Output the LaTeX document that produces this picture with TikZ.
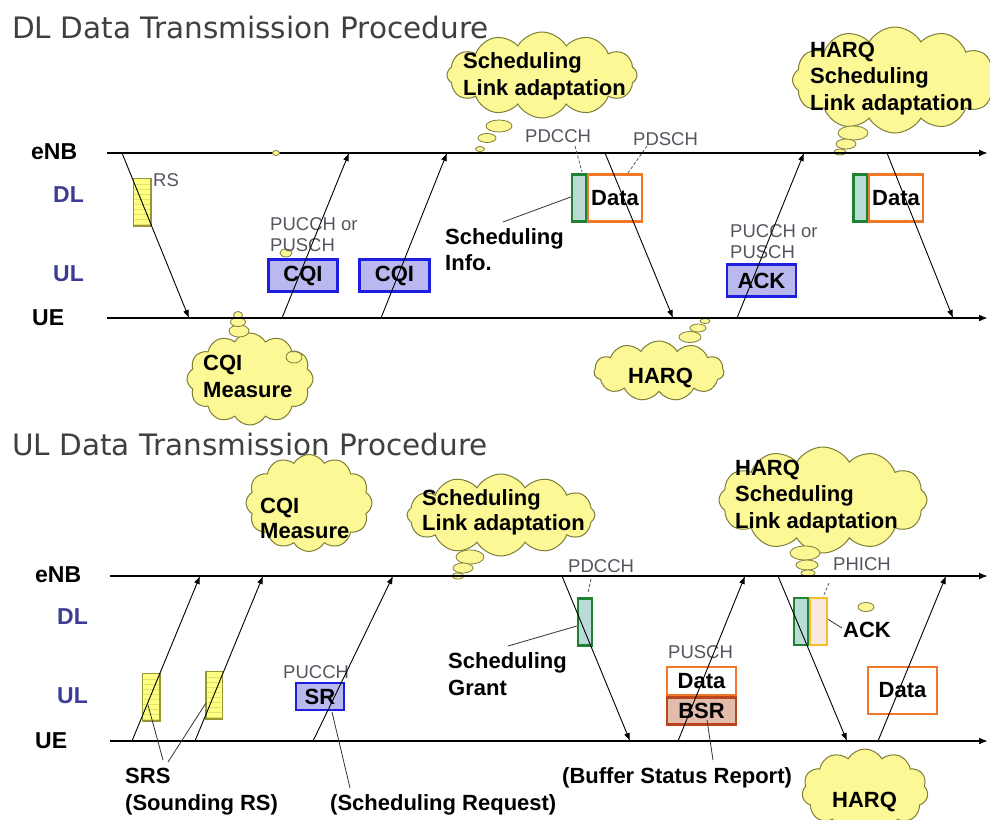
\documentclass[tikz,border=0pt]{standalone}
\usepackage{fontspec}
\setmainfont{Liberation Sans}
\newfontfamily\titlefont{DejaVu Sans}
\usetikzlibrary{arrows.meta,shapes.symbols,shapes.geometric}
\definecolor{cloudfill}{RGB}{252,248,150}
\definecolor{cloudline}{RGB}{125,125,55}
\definecolor{titlegray}{RGB}{64,64,64}
\definecolor{chanblue}{RGB}{60,60,150}
\definecolor{labgray}{RGB}{85,85,95}
\definecolor{cqiline}{RGB}{30,30,225}
\definecolor{cqifill}{RGB}{185,185,240}
\definecolor{dataorange}{RGB}{240,120,40}
\definecolor{ctrlgreen}{RGB}{30,130,50}
\definecolor{ctrlfill}{RGB}{185,220,215}
\definecolor{rsfill}{RGB}{255,255,130}
\definecolor{rsline}{RGB}{150,150,50}
\definecolor{rsstripe}{RGB}{225,225,110}
\definecolor{bsrline}{RGB}{185,70,30}
\definecolor{bsrfill}{RGB}{228,188,172}
\definecolor{ackline}{RGB}{245,190,40}
\definecolor{ackfill}{RGB}{250,232,222}
\tikzset{
  titletext/.style={anchor=base west, inner sep=0pt, font=\titlefont\fontsize{29.5}{30}\selectfont, text=titlegray},
  tllabel/.style={anchor=base west, inner sep=0pt, font=\bfseries\fontsize{23}{26}\selectfont},
  chanlabel/.style={tllabel, text=chanblue},
  graylabel/.style={anchor=base west, inner sep=0pt, font=\fontsize{18.5}{21}\selectfont, text=labgray, align=left},
  boldlabel/.style={anchor=base west, inner sep=0pt, font=\bfseries\fontsize{22}{26.5}\selectfont, align=left},
  timeline/.style={line width=2pt, -{Latex[length=9pt,width=7pt]}},
  msg/.style={line width=0.9pt, -{Latex[length=8pt,width=6pt]}},
  pointer/.style={line width=0.8pt, draw=black!80},
  dashpointer/.style={line width=0.8pt, draw=labgray, dashed, dash pattern=on 3pt off 2pt},
  cloudbox/.style={cloud, cloud puffs=12, cloud puff arc=120, cloud ignores aspect, draw=cloudline, fill=cloudfill, line width=1pt, inner sep=0pt},
  bubble/.style={ellipse, draw=cloudline, fill=cloudfill, line width=0.8pt, inner sep=0pt},
  boxfont/.style={font=\bfseries\fontsize{22}{24}\selectfont},
  cqibox/.style={rectangle, draw=cqiline, fill=cqifill, line width=2.8pt, inner sep=0pt, boxfont},
  databox/.style={rectangle, draw=dataorange, fill=white, line width=2.8pt, inner sep=0pt, boxfont},
  ctrlbox/.style={rectangle, draw=ctrlgreen, fill=ctrlfill, line width=2.6pt, inner sep=0pt},
  rsbox/.style={rectangle, draw=rsline, fill=rsfill, line width=1pt, inner sep=0pt},
  bsrbox/.style={rectangle, draw=bsrline, fill=bsrfill, line width=2.8pt, inner sep=0pt, boxfont},
  ackbox/.style={rectangle, draw=ackline, fill=ackfill, line width=2.6pt, inner sep=0pt},
}
\begin{document}
\begin{tikzpicture}[x=1pt,y=-1pt]
\useasboundingbox (0,0) rectangle (990,819);
\fill[white] (0,0) rectangle (990,819);

% ================= TITLES =================
\node[titletext] (title1) at (12,38) {DL Data Transmission Procedure};
\node[titletext] (title2) at (12,455) {UL Data Transmission Procedure};

% ================= TOP: DL =================
\node[tllabel] (enb1) at (31,159) {eNB};
\node[chanlabel] (dl1) at (53,202) {DL};
\node[chanlabel] (ul1) at (53,281) {UL};
\node[tllabel] (ue1) at (32,325) {UE};

% clouds
\node[cloudbox, minimum width=190pt, minimum height=86pt] (cl1) at (542,75) {};
\node[cloudbox, minimum width=205pt, minimum height=106pt] (cl2) at (895,80) {};
\node[cloudbox, minimum width=126pt, minimum height=92pt] (cl3) at (250,379) {};
\node[cloudbox, cloud puffs=11, minimum width=130pt, minimum height=60pt] (cl4) at (659,371) {};
\node[bubble, minimum width=16pt, minimum height=12pt, fill=none] (cl3in) at (294,357) {};

% bubbles
\node[bubble, minimum width=26pt, minimum height=12pt] (b1c) at (499,126) {};
\node[bubble, minimum width=18pt, minimum height=9pt] (b1b) at (487,138) {};
\node[bubble, minimum width=9pt, minimum height=5pt] (b1a) at (480,149) {};
\node[bubble, minimum width=30pt, minimum height=14pt] (b2c) at (853,133) {};
\node[bubble, minimum width=20pt, minimum height=10pt] (b2b) at (846,144) {};
\node[bubble, minimum width=12pt, minimum height=6pt] (b2a) at (840,152) {};
\node[bubble, minimum width=20pt, minimum height=12pt] (b3c) at (239,331) {};
\node[bubble, minimum width=15pt, minimum height=9pt] (b3b) at (238,322) {};
\node[bubble, minimum width=9pt, minimum height=7pt] (b3a) at (238,315) {};
\node[bubble, minimum width=22pt, minimum height=11pt] (b4c) at (690,337) {};
\node[bubble, minimum width=16pt, minimum height=8pt] (b4b) at (698,328) {};
\node[bubble, minimum width=10pt, minimum height=5pt] (b4a) at (705,321) {};
\node[bubble, minimum width=12pt, minimum height=8pt] (b5) at (286,253) {};

% cloud texts (anchored at the baseline of the last line)
\node[boldlabel] (cl1t) at (463,95) {Scheduling\\Link adaptation};
\node[boldlabel] (cl2t) at (810,110) {HARQ\\Scheduling\\Link adaptation};
\node[boldlabel] (cl3t) at (203,397) {CQI\\Measure};
\node[boldlabel] (cl4t) at (628,383) {HARQ};

% boxes
\node[rsbox, minimum width=17pt, minimum height=47pt] (rs1) at (142,202) {};
\foreach \yy in {184,189,...,224} \draw[rsstripe, line width=0.5pt] (134,\yy) -- (150,\yy);
\draw[rsline, line width=1pt] (rs1.north west) rectangle (rs1.south east);
\node[cqibox, minimum width=69pt, minimum height=32pt] (cqi1) at (303,275.5) {CQI};
\node[cqibox, minimum width=70pt, minimum height=32pt] (cqi2) at (394.5,275.5) {CQI};
\node[ctrlbox, minimum width=14pt, minimum height=47pt] (ctrl1) at (579,198) {};
\node[databox, minimum width=54pt, minimum height=47pt] (data1) at (615,198) {Data};
\node[cqibox, minimum width=69pt, minimum height=32pt] (ack1) at (761.5,280.5) {ACK};
\node[ctrlbox, minimum width=14pt, minimum height=47pt] (ctrl2) at (860.5,198) {};
\node[databox, minimum width=54pt, minimum height=47pt] (data2) at (896,198) {Data};

% gray labels
\node[graylabel] (rslab) at (153,186) {RS};
\node[graylabel] (pucch1) at (270,251) {PUCCH or\\PUSCH};
\node[graylabel] (pdcch1) at (525,142) {PDCCH};
\node[graylabel] (pdsch1) at (633,145) {PDSCH};
\node[graylabel] (pucch2) at (730,258) {PUCCH or\\PUSCH};
\node[boldlabel, font=\bfseries\fontsize{22}{25.5}\selectfont] (schinfo) at (445,270) {Scheduling\\Info.};

% timelines
\coordinate (enb1s) at (107,153); \coordinate (enb1e) at (988,153);
\coordinate (ue1s) at (107,318);  \coordinate (ue1e) at (988,318);
\draw[timeline] (enb1s) -- (enb1e);
\draw[timeline] (ue1s) -- (ue1e);
\node[bubble, minimum width=7pt, minimum height=5pt] (dot1) at (276,153) {};

% messages
\coordinate (m1a) at (122,153); \coordinate (m1b) at (189,318);
\coordinate (m2a) at (282,318); \coordinate (m2b) at (349,153);
\coordinate (m3a) at (381,318); \coordinate (m3b) at (447,153);
\coordinate (m4a) at (605,153); \coordinate (m4b) at (673,318);
\coordinate (m5a) at (737,318); \coordinate (m5b) at (804,153);
\coordinate (m6a) at (887,153); \coordinate (m6b) at (953,318);
\draw[msg] (m1a) -- (m1b);
\draw[msg] (m2a) -- (m2b);
\draw[msg] (m3a) -- (m3b);
\draw[msg] (m4a) -- (m4b);
\draw[msg] (m5a) -- (m5b);
\draw[msg] (m6a) -- (m6b);

% pointers
\coordinate (pi1) at (503,222);
\draw[pointer] (pi1) -- ([yshift=1pt]ctrl1.west);
\coordinate (pd1) at (575,146); \coordinate (pd1e) at (582,172);
\draw[dashpointer] (pd1) -- (pd1e);
\coordinate (ps1) at (647,146); \coordinate (ps1e) at (628,173);
\draw[dashpointer] (ps1) -- (ps1e);

% ================= BOTTOM: UL =================
\node[tllabel] (enb2) at (35,582) {eNB};
\node[chanlabel] (dl2) at (57,624) {DL};
\node[chanlabel] (ul2) at (57,703) {UL};
\node[tllabel] (ue2) at (35,748) {UE};

% clouds
\node[cloudbox, minimum width=126pt, minimum height=97pt] (cl5) at (309,503) {};
\node[cloudbox, minimum width=188pt, minimum height=82pt] (cl6) at (501,515) {};
\node[cloudbox, minimum width=208pt, minimum height=106pt] (cl7) at (823,500) {};
\node[cloudbox, cloud puffs=11, minimum width=126pt, minimum height=84pt] (cl8) at (865,791) {};

\node[bubble, minimum width=28pt, minimum height=14pt] (b6c) at (470,557) {};
\node[bubble, minimum width=20pt, minimum height=10pt] (b6b) at (463,568) {};
\node[bubble, minimum width=12pt, minimum height=6pt] (b6a) at (458,576) {};
\node[bubble, minimum width=30pt, minimum height=14pt] (b7c) at (805,553) {};
\node[bubble, minimum width=22pt, minimum height=10pt] (b7b) at (807,565) {};
\node[bubble, minimum width=14pt, minimum height=6pt] (b7a) at (808,573) {};
\node[bubble, minimum width=16pt, minimum height=9pt] (b8) at (866,607) {};

\node[boldlabel, font=\bfseries\fontsize{22}{25}\selectfont] (cl5t) at (260,538) {CQI\\Measure};
\node[boldlabel, font=\bfseries\fontsize{22}{25}\selectfont] (cl6t) at (422,530) {Scheduling\\Link adaptation};
\node[boldlabel] (cl7t) at (735,528) {HARQ\\Scheduling\\Link adaptation};
\node[boldlabel] (cl8t) at (832,807) {HARQ};

% boxes
\node[rsbox, minimum width=17pt, minimum height=47pt] (srs1) at (151,697) {};
\foreach \yy in {679,684,...,719} \draw[rsstripe, line width=0.5pt] (143,\yy) -- (159,\yy);
\draw[rsline, line width=1pt] (srs1.north west) rectangle (srs1.south east);
\node[rsbox, minimum width=16pt, minimum height=47pt] (srs2) at (214,695) {};
\foreach \yy in {677,682,...,717} \draw[rsstripe, line width=0.5pt] (207,\yy) -- (221,\yy);
\draw[rsline, line width=1pt] (srs2.north west) rectangle (srs2.south east);
\node[cqibox, minimum width=48pt, minimum height=27pt] (sr) at (320,696.5) {SR};
\node[ctrlbox, minimum width=14pt, minimum height=47pt] (ctrl3) at (585,622) {};
\node[databox, minimum width=69pt, minimum height=28pt] (data3) at (701.5,681) {Data};
\node[bsrbox, minimum width=69pt, minimum height=27pt] (bsr) at (701.5,711) {BSR};
\node[ctrlbox, minimum width=14pt, minimum height=47pt] (ctrl4) at (801,621.5) {};
\node[ackbox, minimum width=17pt, minimum height=47pt] (phich) at (818.5,621.5) {};
\node[databox, minimum width=69pt, minimum height=47pt] (data4) at (902.5,690.5) {Data};

% labels
\node[graylabel] (pucch3) at (283,678) {PUCCH};
\node[graylabel] (pdcch2) at (568,572) {PDCCH};
\node[graylabel] (pusch) at (668,658) {PUSCH};
\node[graylabel] (phichl) at (833,570) {PHICH};
\node[boldlabel, font=\bfseries\fontsize{22}{27}\selectfont] (grant) at (448,695) {Scheduling\\Grant};
\node[boldlabel] (acklab) at (843,637) {ACK};
\node[boldlabel, font=\bfseries\fontsize{22}{27}\selectfont] (srslab) at (125,810) {SRS\\(Sounding RS)};
\node[boldlabel] (srlab) at (330,810) {(Scheduling Request)};
\node[boldlabel] (bsrlab) at (562,783) {(Buffer Status Report)};

% timelines
\coordinate (enb2s) at (110,576); \coordinate (enb2e) at (988,576);
\coordinate (ue2s) at (110,741);  \coordinate (ue2e) at (988,741);
\draw[timeline] (enb2s) -- (enb2e);
\draw[timeline] (ue2s) -- (ue2e);

% messages
\coordinate (n1a) at (132,741); \coordinate (n1b) at (200,576);
\coordinate (n2a) at (195,741); \coordinate (n2b) at (263,576);
\coordinate (n3a) at (313,741); \coordinate (n3b) at (393,576);
\coordinate (n4a) at (562,576); \coordinate (n4b) at (630,741);
\coordinate (n5a) at (678,741); \coordinate (n5b) at (745,576);
\coordinate (n6a) at (778,576); \coordinate (n6b) at (847,741);
\coordinate (n7a) at (878,741); \coordinate (n7b) at (946,576);
\draw[msg] (n1a) -- (n1b);
\draw[msg] (n2a) -- (n2b);
\draw[msg] (n3a) -- (n3b);
\draw[msg] (n4a) -- (n4b);
\draw[msg] (n5a) -- (n5b);
\draw[msg] (n6a) -- (n6b);
\draw[msg] (n7a) -- (n7b);

% pointers
\coordinate (pg) at (508,646);
\draw[pointer] (pg) -- ([yshift=-4pt]ctrl3.west);
\coordinate (psrs1) at (163,760); \coordinate (psrs1e) at (148,705);
\draw[pointer] (psrs1) -- (psrs1e);
\coordinate (psrs2) at (168,762); \coordinate (psrs2e) at (206,703);
\draw[pointer] (psrs2) -- (psrs2e);
\coordinate (psr) at (332,712); \coordinate (psre) at (350,788);
\draw[pointer] (psr) -- (psre);
\coordinate (pbsr) at (707,720); \coordinate (pbsre) at (713,760);
\draw[pointer] (pbsr) -- (pbsre);
\coordinate (pack) at (842,628);
\draw[pointer] (pack) -- ([yshift=2pt]phich.east);
\coordinate (pd2) at (591,579); \coordinate (pd2e) at (588,593);
\draw[dashpointer] (pd2) -- (pd2e);
\coordinate (ph2) at (829,583); \coordinate (ph2e) at (823,597);
\draw[dashpointer] (ph2) -- (ph2e);
\end{tikzpicture}
\end{document}
